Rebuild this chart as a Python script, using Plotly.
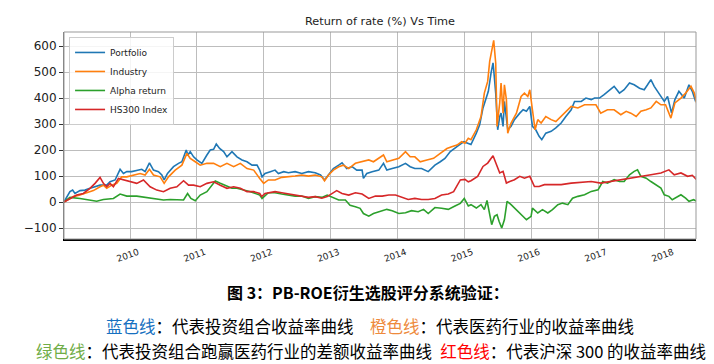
import pandas as pd
import plotly.graph_objects as go

# ---------------- data ----------------
# x positions are read as decimal years, values are returns in %
portfolio_years = [2009.01,2009.10,2009.14,2009.175,2009.25,2009.325,2009.40,2009.475,2009.55,2009.65,2009.70,2009.775,2009.85,2009.90,2009.95,
    2010.025,2010.10,2010.175,2010.225,2010.29,2010.35,2010.425,2010.475,2010.51,2010.56,2010.65,2010.725,2010.775,2010.84,2010.865,2010.90,2010.95,
    2011.0,2011.075,2011.15,2011.20,2011.25,2011.29,2011.34,2011.40,2011.45,2011.525,2011.60,2011.675,2011.75,2011.825,2011.90,2011.94,2011.975,
    2012.02,2012.10,2012.17,2012.22,2012.30,2012.37,2012.47,2012.57,2012.67,2012.77,2012.85,2012.91,2012.97,
    2013.04,2013.12,2013.17,2013.24,2013.32,2013.39,2013.47,2013.49,2013.54,2013.62,2013.72,2013.79,2013.84,2013.92,
    2014.02,2014.12,2014.19,2014.26,2014.36,2014.46,2014.56,2014.64,2014.71,2014.79,2014.86,2014.92,2014.99,
    2015.06,2015.10,2015.18,2015.23,2015.28,2015.33,2015.36,2015.40,2015.43,2015.44,2015.47,2015.50,2015.53,2015.55,2015.58,2015.60,2015.63,2015.65,2015.70,2015.75,2015.83,2015.88,2015.93,2015.98,
    2016.02,2016.07,2016.12,2016.16,2016.22,2016.30,2016.37,2016.45,2016.52,2016.60,2016.65,2016.75,2016.82,2016.90,2016.95,
    2017.02,2017.09,2017.17,2017.24,2017.32,2017.39,2017.47,2017.54,2017.62,2017.69,2017.74,2017.79,2017.84,2017.92,2017.99,
    2018.04,2018.10,2018.15,2018.21,2018.29,2018.36,2018.41,2018.46]
portfolio_values = [0,40,46,33,44,46,53,59,65,65,78,85,126,110,117,
    117,123,126,117,151,123,117,104,85,110,136,149,155,200,181,194,174,
    162,149,181,200,203,223,206,194,174,194,174,162,155,142,142,123,97,
    110,117,123,110,117,113,117,110,117,113,104,85,104,
    129,142,151,129,136,123,123,91,110,117,123,149,123,129,
    136,149,136,129,129,117,142,155,168,194,206,219,232,
    226,221,265,297,362,406,426,496,535,509,419,278,329,342,291,387,317,278,291,317,342,355,349,368,
    291,278,253,240,265,272,285,304,329,355,387,387,400,394,400,
    400,413,432,445,419,432,458,451,438,432,451,471,445,413,387,
    406,342,394,426,400,451,426,387]

industry_years = [2009.01,2009.15,2009.25,2009.35,2009.45,2009.55,2009.60,2009.65,2009.725,2009.80,2009.875,2009.95,
    2010.05,2010.15,2010.225,2010.29,2010.35,2010.45,2010.51,2010.575,2010.675,2010.775,2010.85,2010.90,2010.975,
    2011.05,2011.15,2011.25,2011.35,2011.45,2011.55,2011.65,2011.75,2011.85,2011.94,
    2012.0,2012.07,2012.17,2012.27,2012.37,2012.47,2012.57,2012.67,2012.77,2012.87,2012.91,2012.97,
    2013.04,2013.12,2013.19,2013.27,2013.37,2013.47,2013.57,2013.64,2013.72,2013.79,2013.84,2013.92,
    2014.02,2014.12,2014.19,2014.26,2014.34,2014.44,2014.54,2014.64,2014.74,2014.81,2014.89,2014.96,
    2015.01,2015.06,2015.10,2015.18,2015.25,2015.30,2015.35,2015.38,2015.41,2015.44,2015.47,2015.49,2015.53,2015.55,2015.58,2015.60,2015.63,2015.65,2015.70,2015.78,2015.85,2015.90,2015.95,2015.98,
    2016.02,2016.06,2016.10,2016.15,2016.22,2016.30,2016.37,2016.45,2016.52,2016.60,2016.70,2016.80,2016.90,2016.97,
    2017.04,2017.14,2017.24,2017.34,2017.42,2017.49,2017.57,2017.64,2017.72,2017.79,2017.87,2017.94,
    2018.01,2018.09,2018.15,2018.24,2018.31,2018.39,2018.44,2018.475]
industry_values = [0,21,27,36,44,59,65,53,65,72,97,97,
    104,110,104,126,104,97,72,97,123,142,187,168,155,
    142,149,149,136,149,136,149,129,123,91,
    72,85,85,95,97,100,104,100,104,97,82,104,
    123,136,142,129,149,155,162,155,168,181,155,162,
    168,194,174,174,155,162,168,187,206,213,219,232,
    226,245,240,278,329,419,464,541,586,622,535,291,381,458,342,451,394,265,304,342,406,419,406,432,
    355,278,317,304,329,317,310,329,349,368,362,374,374,374,
    342,355,355,336,349,342,329,349,355,362,387,374,
    374,323,381,400,419,445,419,381]

alpha_years = [2009.01,2009.10,2009.25,2009.40,2009.50,2009.60,2009.75,2009.85,2009.95,
    2010.10,2010.25,2010.40,2010.50,2010.60,2010.70,2010.80,2010.86,2010.91,2010.975,
    2011.05,2011.15,2011.225,2011.275,2011.35,2011.45,2011.525,2011.60,2011.70,2011.80,2011.94,2011.975,
    2012.07,2012.17,2012.27,2012.37,2012.47,2012.57,2012.67,2012.77,2012.87,2012.95,
    2013.02,2013.12,2013.22,2013.29,2013.37,2013.44,2013.49,2013.57,2013.64,2013.74,2013.84,2013.92,
    2014.02,2014.12,2014.21,2014.31,2014.39,2014.46,2014.56,2014.66,2014.76,2014.86,2014.94,
    2015.0,2015.06,2015.10,2015.18,2015.25,2015.30,2015.34,2015.37,2015.41,2015.45,2015.49,2015.52,2015.56,2015.60,2015.64,2015.70,2015.78,2015.85,2015.93,
    2016.0,2016.02,2016.10,2016.17,2016.25,2016.32,2016.40,2016.47,2016.55,2016.62,2016.70,2016.80,2016.90,
    2017.0,2017.07,2017.14,2017.24,2017.32,2017.39,2017.47,2017.54,2017.59,2017.64,2017.72,2017.79,2017.87,2017.94,2017.99,
    2018.06,2018.11,2018.19,2018.24,2018.31,2018.36,2018.43,2018.475]
alpha_values = [0,18,14,8,3,10,14,31,23,
    23,18,14,8,10,8,8,33,14,5,
    27,40,65,81,72,62,53,53,46,40,27,14,
    36,36,31,27,23,23,14,21,18,27,
    18,8,8,-12,-18,-24,-44,-54,-44,-37,-28,-33,
    -44,-41,-33,-37,-28,-44,-21,-24,-28,-15,-5,
    14,-15,-10,-23,-10,-29,6,-36,-87,-55,-49,-74,-100,-68,3,-10,-29,-49,-68,
    -55,-23,-42,-29,-42,-29,-10,-4,-10,15,22,28,41,
    47,79,73,86,79,79,105,118,124,99,92,79,67,54,28,
    22,9,22,28,15,3,9,3]

hs300_years = [2009.01,2009.10,2009.20,2009.30,2009.40,2009.475,2009.55,2009.60,2009.65,2009.70,2009.75,2009.825,2009.90,
    2010.0,2010.10,2010.20,2010.30,2010.40,2010.50,2010.60,2010.70,2010.80,2010.875,2010.95,
    2011.05,2011.15,2011.25,2011.35,2011.45,2011.55,2011.65,2011.75,2011.85,2011.94,2011.97,
    2012.02,2012.17,2012.27,2012.37,2012.47,2012.57,2012.67,2012.77,2012.87,2012.95,
    2013.04,2013.09,2013.17,2013.27,2013.37,2013.47,2013.57,2013.67,2013.77,2013.87,2013.97,
    2014.06,2014.16,2014.26,2014.36,2014.46,2014.56,2014.66,2014.76,2014.84,2014.89,2014.94,
    2015.01,2015.06,2015.10,2015.20,2015.28,2015.35,2015.43,2015.48,2015.53,2015.58,2015.63,2015.68,2015.75,2015.83,2015.90,2015.98,
    2016.05,2016.12,2016.20,2016.32,2016.45,2016.60,2016.75,2016.90,
    2017.04,2017.19,2017.34,2017.49,2017.64,2017.79,2017.94,
    2018.06,2018.14,2018.24,2018.34,2018.41,2018.475]
hs300_values = [0,14,27,33,53,72,95,72,59,72,59,91,85,
    78,72,85,59,46,40,53,59,82,65,65,
    59,72,78,65,53,59,53,40,40,33,21,
    33,40,36,31,27,23,18,21,15,21,
    36,44,33,27,36,31,14,23,23,27,27,
    18,10,14,10,10,14,27,31,40,65,85,
    87,78,82,99,137,150,178,144,112,118,73,79,86,99,92,99,
    60,60,67,67,67,73,76,79,
    73,79,86,92,99,105,112,
    124,105,112,99,103,86]

series_names = ["Portfolio", "Industry", "Alpha return", "HS300 Index"]
series_colors = ["#1f77b4", "#ff7f0e", "#2ca02c", "#d62728"]

y_ticks = [-100, 0, 100, 200, 300, 400, 500, 600]
x_ticks = ["2010-01-01","2011-01-01","2012-01-01","2013-01-01","2014-01-01","2015-01-01","2016-01-01","2017-01-01","2018-01-01"]
x_tick_labels = ["2010","2011","2012","2013","2014","2015","2016","2017","2018"]

chart_title = "Return of rate (%) Vs Time"
caption_title = "图 3：PB-ROE衍生选股评分系统验证："
caption_line1 = ("<span style='color:#1670C0'>蓝色线</span>：代表投资组合收益率曲线　"
                 "<span style='color:#EE8A3C'>橙色线</span>：代表医药行业的收益率曲线")
caption_line2 = ("<span style='color:#70AD47'>绿色线</span>：代表投资组合跑赢医药行业的差额收益率曲线\u2002"
                 "<span style='color:#FF0000'>红色线</span>：代表沪深 300 的收益率曲线")


def to_dates(years):
    out = []
    for y in years:
        yr = int(y)
        out.append(pd.Timestamp(yr, 1, 1) + pd.Timedelta(days=(y - yr) * 365.25))
    return out


# ---------------- figure ----------------
fig = go.Figure()
all_x = [portfolio_years, industry_years, alpha_years, hs300_years]
all_y = [portfolio_values, industry_values, alpha_values, hs300_values]
for name, col, xs, ys in zip(series_names, series_colors, all_x, all_y):
    fig.add_trace(go.Scatter(x=to_dates(xs), y=ys, mode="lines", name=name,
                             line=dict(color=col, width=1.6)))

fig.update_layout(
    width=714, height=364, autosize=False,
    margin=dict(l=64, r=18, t=32, b=125),
    paper_bgcolor="white", plot_bgcolor="white",
    font=dict(family="DejaVu Sans", color="#222"),
    title=dict(text=chart_title, x=0.5, xref="paper", xanchor="center",
               y=1 - 21/364, yanchor="middle", font=dict(size=11.3, color="#222")),
    showlegend=True,
    legend=dict(x=0.008, y=0.976, xanchor="left", yanchor="top",
                bgcolor="rgba(255,255,255,0.85)", bordercolor="#cccccc", borderwidth=1,
                font=dict(size=9, family="DejaVu Sans"), itemwidth=30, tracegroupgap=0),
)

fig.update_xaxes(
    type="date", range=["2009-01-05", "2018-06-20"],
    tickmode="array", tickvals=x_ticks, ticktext=x_tick_labels, tickangle=-20,
    tickfont=dict(size=9), ticklabelshift=8, ticklabelstandoff=3,
    showgrid=True, gridcolor="#bdbdbd", gridwidth=1,
    showline=True, linecolor="black", linewidth=1.5, mirror=False, zeroline=False,
    ticks="",
)
fig.update_yaxes(
    range=[-142, 654], tickmode="array", tickvals=y_ticks,
    tickfont=dict(size=12), showgrid=True, gridcolor="#bdbdbd", gridwidth=1,
    showline=True, linecolor="#777", linewidth=1, mirror=False, zeroline=False,
    ticks="outside", ticklen=4, tickcolor="#333",
)

# frame (top / right spines)
fig.add_shape(type="rect", xref="paper", yref="paper", x0=0, y0=0, x1=1, y1=1,
              line=dict(color="#999", width=1), fillcolor="rgba(0,0,0,0)", layer="above")

cap_font = "Noto Sans CJK SC"
fig.add_annotation(text="<b>" + caption_title + "</b>", xref="paper", yref="paper",
                   x=(368-64)/632, y=(239-292)/207, xanchor="center", yanchor="middle",
                   showarrow=False, font=dict(family=cap_font, size=16, color="black"))
fig.add_annotation(text=caption_line1, xref="paper", yref="paper",
                   x=(370-64)/632, y=(239-326)/207, xanchor="center", yanchor="middle",
                   showarrow=False, font=dict(family=cap_font, size=16.5, color="black"))
fig.add_annotation(text=caption_line2, xref="paper", yref="paper",
                   x=(371-64)/632, y=(239-351)/207, xanchor="center", yanchor="middle",
                   showarrow=False, font=dict(family=cap_font, size=16.5, color="black"))

fig.write_html("out.html", config={"displayModeBar": False},
               post_script="document.body.style.margin='0';document.body.style.overflow='hidden';")
